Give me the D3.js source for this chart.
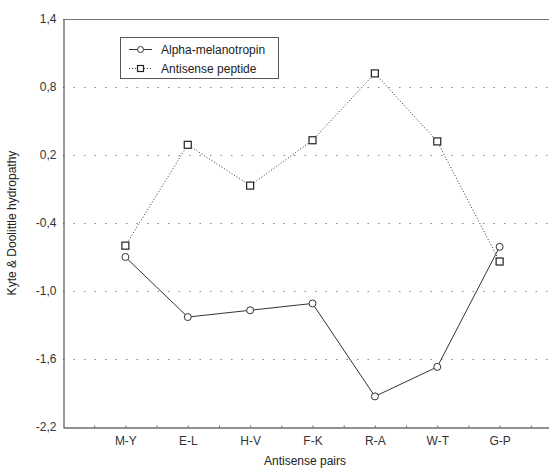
<!DOCTYPE html>
<html><head><meta charset="utf-8">
<script src="https://cdnjs.cloudflare.com/ajax/libs/d3/7.8.5/d3.min.js"></script>
<style>
body{margin:0;background:#fff;}
svg{display:block;font-family:"Liberation Sans",Arial,sans-serif;}
</style></head>
<body><div id="chart"></div>
<script>
const categories = ["M-Y","E-L","H-V","F-K","R-A","W-T","G-P"];
const alphaMelanotropin = [-0.70,-1.23,-1.17,-1.11,-1.93,-1.67,-0.61];
const antisensePeptide = [-0.60,0.29,-0.07,0.33,0.92,0.32,-0.74];
const yTicks = [1.4,0.8,0.2,-0.4,-1.0,-1.6,-2.2];
const seriesNames = ["Alpha-melanotropin","Antisense peptide"];

const W=549,H=469;
const m={left:63,top:19,right:-13,bottom:42};
const FS=12;
const svg=d3.select("#chart").append("svg").attr("width",W).attr("height",H);
const x=d3.scaleLinear().domain([0,categories.length+1]).range([m.left,W-m.right]);
const y=d3.scaleLinear().domain([-2.2,1.4]).range([H-m.bottom,m.top]);
const fmt=v=>d3.format(".1f")(v).replace(".",",").replace("−","-");

// gridlines
svg.append("g").selectAll("line").data(yTicks.filter(v=>v<1.39&&v>-2.19)).join("line")
  .attr("x1",m.left).attr("x2",W).attr("y1",d=>Math.round(y(d))+0.5).attr("y2",d=>Math.round(y(d))+0.5)
  .attr("stroke","#888").attr("stroke-dasharray","1.5,9");
// top border
svg.append("line").attr("x1",m.left).attr("x2",W).attr("y1",Math.round(y(1.4))+0.5).attr("y2",Math.round(y(1.4))+0.5)
  .attr("stroke","#777").attr("stroke-width",1.2);

// y axis
const yAxis=d3.axisLeft(y).tickValues(yTicks).tickSize(0).tickPadding(7).tickFormat(fmt);
const gy=svg.append("g").attr("transform",`translate(${m.left+0.5},0)`).call(yAxis);
gy.select(".domain").attr("stroke","#333");
gy.selectAll("text").attr("font-size",FS).attr("fill","#333").attr("font-family","Liberation Sans, Arial, sans-serif");

// x axis
const xTickVals=d3.range(0.5,categories.length+1,0.5);
const xAxis=d3.axisBottom(x).tickValues(xTickVals).tickSizeInner(-2).tickSizeOuter(0).tickPadding(9)
  .tickFormat(d=>Number.isInteger(d)&&d>=1&&d<=categories.length?categories[d-1]:"");
const gx=svg.append("g").attr("transform",`translate(0,${Math.round(y(-2.2))+0.5})`).call(xAxis);
gx.select(".domain").attr("stroke","#222");
gx.selectAll(".tick line").attr("stroke","#666");
gx.selectAll("text").attr("font-size",FS).attr("fill","#333").attr("font-family","Liberation Sans, Arial, sans-serif");

// lines
const line=d3.line().x((d,i)=>x(i+1)).y(d=>y(d));
svg.append("path").datum(antisensePeptide).attr("d",line).attr("fill","none")
  .attr("stroke","#333").attr("stroke-width",1).attr("stroke-dasharray","1,2");
svg.append("path").datum(alphaMelanotropin).attr("d",line).attr("fill","none")
  .attr("stroke","#333").attr("stroke-width",1);

// markers
svg.append("g").selectAll("rect").data(antisensePeptide).join("rect")
  .attr("x",(d,i)=>x(i+1)-3.5).attr("y",d=>y(d)-3.5).attr("width",7).attr("height",7)
  .attr("fill","#fff").attr("stroke","#222").attr("stroke-width",1.2);
svg.append("g").selectAll("circle").data(alphaMelanotropin).join("circle")
  .attr("cx",(d,i)=>x(i+1)).attr("cy",d=>y(d)).attr("r",3.5)
  .attr("fill","#fff").attr("stroke","#333").attr("stroke-width",1);

// legend
const lg=svg.append("g");
lg.append("rect").attr("x",120.5).attr("y",37.5).attr("width",158).attr("height",41)
  .attr("fill","#fff").attr("stroke","#555").attr("stroke-width",1);
const items=[{name:seriesNames[0],dash:null,shape:"circle",yy:49},{name:seriesNames[1],dash:"1,2",shape:"rect",yy:68}];
items.forEach(it=>{
  lg.append("line").attr("x1",129).attr("x2",152).attr("y1",it.yy+0.5).attr("y2",it.yy+0.5)
    .attr("stroke","#333").attr("stroke-dasharray",it.dash);
  if(it.shape==="circle") lg.append("circle").attr("cx",140.5).attr("cy",it.yy+0.5).attr("r",3).attr("fill","#fff").attr("stroke","#333");
  else lg.append("rect").attr("x",137.5).attr("y",it.yy-2.5).attr("width",6).attr("height",6).attr("fill","#fff").attr("stroke","#222").attr("stroke-width",1.2);
  lg.append("text").attr("x",161).attr("y",it.yy+4.5).attr("font-size",FS).attr("fill","#222").text(it.name);
});

// axis titles
svg.append("text").attr("x",305).attr("y",465).attr("text-anchor","middle")
  .attr("font-size",FS).attr("fill","#222").text("Antisense pairs");
svg.append("text").attr("transform",`translate(16,${(y.range()[0]+y.range()[1])/2}) rotate(-90)`).attr("text-anchor","middle")
  .attr("font-size",FS).attr("fill","#222").text("Kyte & Doolittle hydropathy");
</script></body></html>
